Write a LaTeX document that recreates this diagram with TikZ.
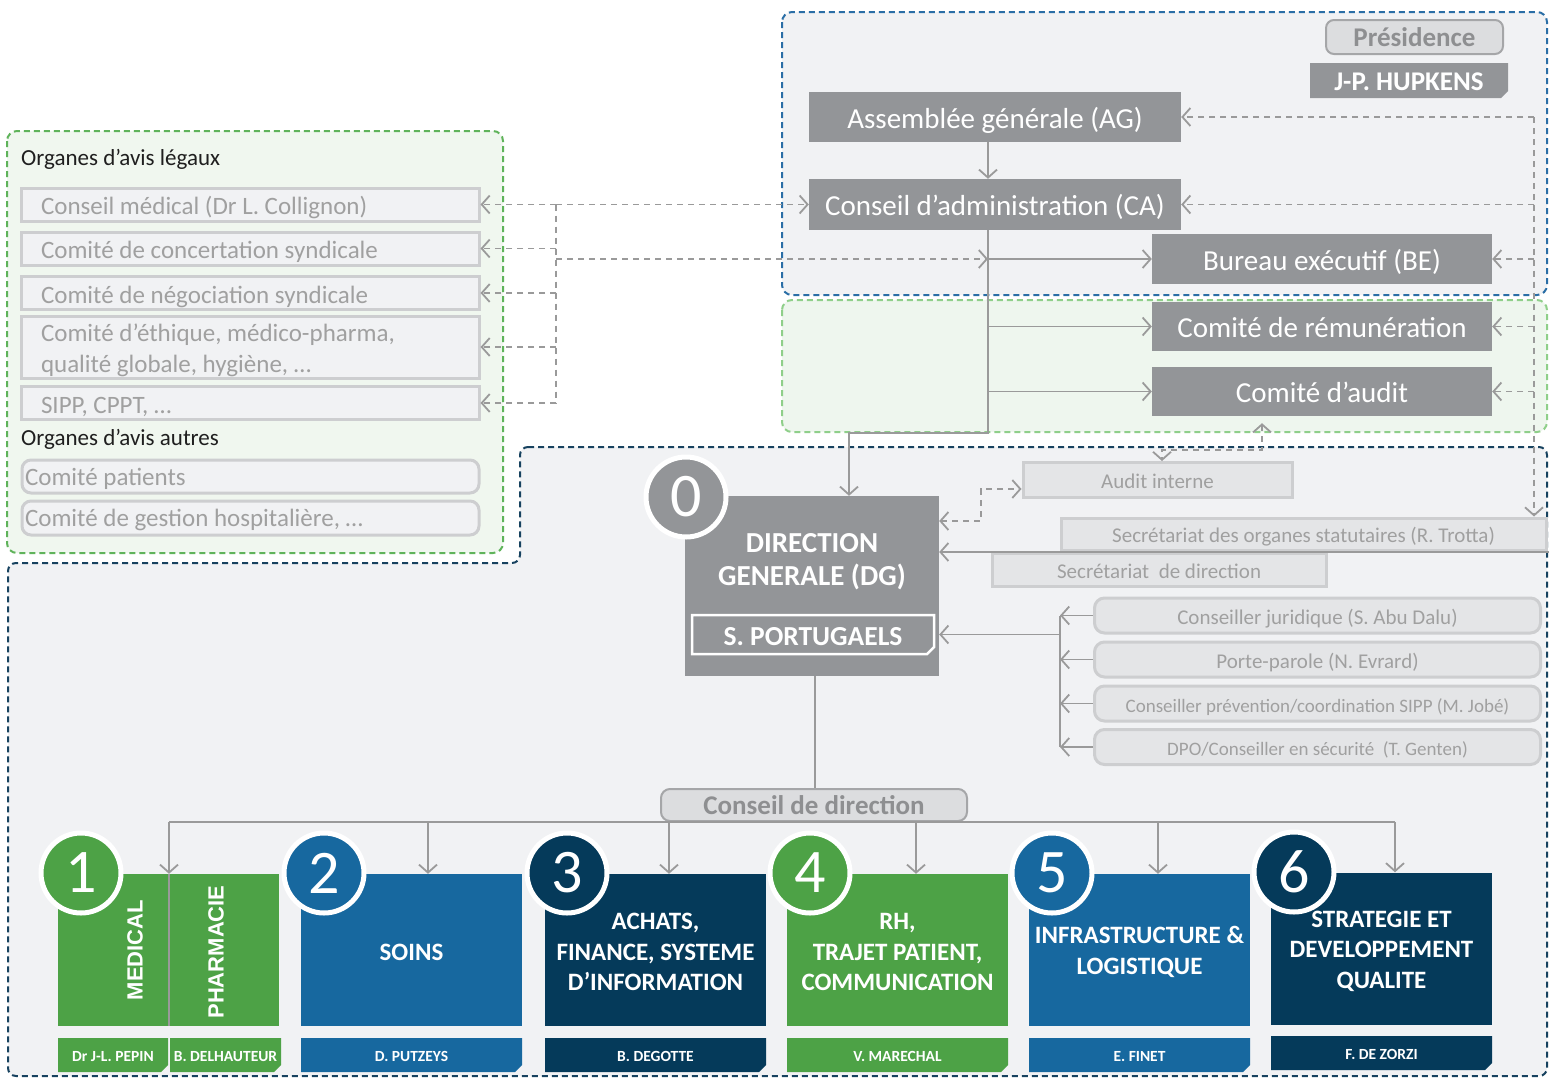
\documentclass[tikz,border=0pt]{standalone}
\usepackage{fontspec}
\setmainfont{Carlito}
\newfontfamily\widefont{Liberation Sans}
\usetikzlibrary{arrows.meta}

\definecolor{boxgray}{HTML}{939598}
\definecolor{panelgray}{HTML}{F1F2F4}
\definecolor{panelgreen}{HTML}{EEF6EE}
\definecolor{panelgreenb}{HTML}{F0F7EF}
\definecolor{dashblue}{HTML}{2A6EA6}
\definecolor{dashnavy}{HTML}{17425F}
\definecolor{dashgreen}{HTML}{5FB35A}
\definecolor{dashgreenlt}{HTML}{8FCF8A}
\definecolor{linegray}{HTML}{9A9A9A}
\definecolor{txtgray}{HTML}{A0A0A0}
\definecolor{legborder}{HTML}{CDCED0}
\definecolor{lightbox}{HTML}{E4E5E7}
\definecolor{presfill}{HTML}{DCDDDF}
\definecolor{presdraw}{HTML}{A5A6A8}
\definecolor{prestext}{HTML}{8E8F91}
\definecolor{pgreen}{HTML}{4DA246}
\definecolor{pblue}{HTML}{17689F}
\definecolor{pnavy}{HTML}{053A5A}

% box with a cut lower right corner and a centred label
\newcommand\cutbox[8]{%
  \path[#6] (#2,#3) -- (#4,#3) -- (#4,#5-7) -- (#4-7,#5) -- (#2,#5) -- cycle;
  \node[#7] (#1) at ({(#2+#4)/2},{(#3+#5)/2}) {#8};}

\tikzset{
  govbox/.style={fill=boxgray, text=white, inner sep=0pt, text height=26pt, text depth=4pt,
    font=\fontsize{29}{34}\selectfont},
  legbox/.style={draw=legborder, line width=3pt, fill=panelgray, text=txtgray, inner xsep=20pt, inner ysep=0pt,
    text width=418pt, align=flush left, minimum height=33pt, text height=22pt, text depth=2pt,
    font=\fontsize{25}{31}\selectfont},
  othbox/.style={draw=legborder, line width=3pt, fill=panelgray, text=txtgray, rounded corners=9pt, inner xsep=3pt,
    inner ysep=0pt, text width=451pt, align=flush left, minimum height=33pt, text height=20pt, text depth=3pt,
    font=\fontsize{25}{31}\selectfont},
  staffbox/.style={draw=legborder, line width=3pt, fill=lightbox, text=txtgray, inner sep=0pt,
    text height=19pt, text depth=2pt, font=\fontsize{21}{25}\selectfont},
  advbox/.style={staffbox, rounded corners=10pt, minimum width=446pt, minimum height=35pt},
  header/.style={text=black!88, inner sep=0pt, anchor=base west, font=\fontsize{23}{27}\selectfont},
  graylabel/.style={draw=presdraw, line width=2pt, fill=presfill, inner sep=0pt, text=prestext,
    text height=21pt, text depth=2pt, font=\bfseries\fontsize{27}{30}\selectfont},
  conn/.style={draw=linegray, line width=1.8pt},
  dconn/.style={conn, dash pattern=on 6pt off 5pt},
  tip/.style={-{Straight Barb[length=8pt,width=18pt]}},
  tips/.style={{Straight Barb[length=8pt,width=18pt]}-{Straight Barb[length=8pt,width=18pt]}},
  numdisc/.style={circle, draw=white, line width=5pt, minimum size=80pt, inner sep=0pt, text=white,
    font=\fontsize{62}{62}\selectfont},
  divbox/.style={minimum width=221pt, minimum height=152pt, inner sep=0pt},
  divtext/.style={text=white, align=flush center, inner sep=0pt, font=\bfseries\fontsize{25}{30.5}\selectfont},
  nametext/.style={text=white, inner sep=0pt, text height=13pt, text depth=1pt,
    font=\bfseries\fontsize{15.5}{18}\selectfont},
  vertlabel/.style={rotate=90, text=white, inner sep=0pt, font=\widefont\bfseries\fontsize{22}{26}\selectfont},
}

\begin{document}
\begin{tikzpicture}[x=1pt,y=-1pt]
\useasboundingbox (0,0) rectangle (1549,1079);
\fill[white] (0,0) rectangle (1549,1079);

% ---- dashed zones ----
\path[fill=panelgray, draw=dashblue, line width=2pt, dash pattern=on 6pt off 4pt, rounded corners=10pt]
  (782,12) rectangle (1547,295);
\path[fill=panelgreen, draw=dashgreenlt, line width=2pt, dash pattern=on 6pt off 4pt, rounded corners=10pt]
  (782,300) rectangle (1547,432);
\path[fill=panelgreenb, draw=dashgreen, line width=2pt, dash pattern=on 6pt off 4pt, rounded corners=10pt]
  (7,131) rectangle (503,553);
\path[fill=panelgray, draw=dashnavy, line width=2pt, dash pattern=on 6pt off 4pt, rounded corners=8pt]
  (520,447) -- (1547,447) -- (1547,1076) -- (8,1076) -- (8,563) -- (520,563) -- cycle;

% ---- governing bodies ----
\node[graylabel, rounded corners=8pt, minimum width=177pt, minimum height=34pt] (pres) at (1414.5,37) {Présidence};
\cutbox{hupkens}{1310}{63}{1508}{98}{fill=boxgray}{text=white, inner sep=0pt, text height=22pt, text depth=2pt,
  font=\bfseries\fontsize{27}{30}\selectfont}{J-P. HUPKENS}

\node[govbox, minimum width=372pt, minimum height=50pt] (ag) at (995,117) {Assemblée générale (AG)};
\node[govbox, minimum width=372pt, minimum height=51pt] (ca) at (995,204.5) {Conseil d’administration (CA)};
\node[govbox, minimum width=340pt, minimum height=50pt] (be) at (1322,259) {Bureau exécutif (BE)};
\node[govbox, minimum width=340pt, minimum height=49pt] (rem) at (1322,326.5) {Comité de rémunération};
\node[govbox, minimum width=340pt, minimum height=49pt] (audit) at (1322,391.5) {Comité d’audit};

% ---- advisory bodies ----
\node[header] (hleg) at (21,165) {Organes d’avis légaux};
\node[legbox] (lb1) at (250,204.5) {Conseil médical (Dr L. Collignon)};
\node[legbox] (lb2) at (250,248.5) {Comité de concertation syndicale};
\node[legbox] (lb3) at (250,293) {Comité de négociation syndicale};
\node[legbox, minimum height=62pt] (lb4) at (250,347) {};
\node[text=txtgray, inner sep=0pt, text width=418pt, align=flush left, font=\fontsize{25}{31}\selectfont]
  (lb4text) at (250,350.5) {Comité d’éthique, médico-pharma,\\qualité globale, hygiène, \dots};
\node[legbox] (lb5) at (250,403) {SIPP, CPPT, \dots};
\node[header] (hoth) at (21,445) {Organes d’avis autres};
\node[othbox] (ob1) at (250.5,476.5) {Comité patients};
\node[othbox, minimum height=34pt] (ob2) at (250.5,518) {Comité de gestion hospitalière, \dots};

% ---- general management ----
\node[fill=boxgray, minimum width=254pt, minimum height=180pt, inner sep=0pt] (dg) at (812,586) {};
\node[text=white, align=flush center, inner sep=0pt, font=\bfseries\fontsize{29}{33}\selectfont] (dgtitle) at (812,562)
  {DIRECTION\\GENERALE (DG)};
\cutbox{port}{692}{615}{934}{654}{draw=white, line width=2.5pt}{text=white, inner sep=0pt, text height=22pt,
  text depth=1pt, font=\bfseries\fontsize{27.5}{30}\selectfont}{S. PORTUGAELS}
\node[numdisc, fill=boxgray] (n0) at (686,497) {0};

\node[staffbox, minimum width=269pt, minimum height=35pt] (audint) at (1157.5,480) {Audit interne};
\node[staffbox, minimum width=485pt, minimum height=32pt] (secorg) at (1303.5,534) {Secrétariat des organes statutaires (R. Trotta)};
\node[staffbox, minimum width=334pt, minimum height=33pt] (secdir) at (1159,569.5) {Secrétariat\ \ de direction};

\node[advbox] (r1) at (1317.5,615.5) {Conseiller juridique (S. Abu Dalu)};
\node[advbox] (r2) at (1317.5,659.5) {Porte-parole (N. Evrard)};
\node[advbox, font=\fontsize{19}{23}\selectfont] (r3) at (1317.5,703.5) {Conseiller prévention/coordination SIPP (M. Jobé)};
\node[advbox, font=\fontsize{19}{23}\selectfont] (r4) at (1317.5,747) {DPO/Conseiller en sécurité\ \ (T. Genten)};

\node[graylabel, rounded corners=9pt, minimum width=306pt, minimum height=32pt] (cdd) at (814,805) {Conseil de direction};

% ---- divisions ----
\node[divbox, fill=pgreen] (d1) at (168.5,950) {};
\node[divbox, fill=pblue] (d2) at (411.5,950) {};
\node[divbox, fill=pnavy] (d3) at (655.5,950) {};
\node[divbox, fill=pgreen] (d4) at (897.5,950) {};
\node[divbox, fill=pblue] (d5) at (1139.5,950) {};
\node[divbox, fill=pnavy] (d6) at (1381.5,948.5) {};
\node[divtext] (d2text) at (411.5,952) {SOINS};
\node[divtext] (d3text) at (655.5,952) {ACHATS,\\FINANCE, SYSTEME\\D’INFORMATION};
\node[divtext] (d4text) at (897.5,952) {RH,\\TRAJET PATIENT,\\COMMUNICATION};
\node[divtext] (d5text) at (1139.5,952) {INFRASTRUCTURE \&\\LOGISTIQUE};
\node[divtext] (d6text) at (1381.5,951) {STRATEGIE ET\\DEVELOPPEMENT\\QUALITE};
\node[vertlabel] (med) at (135,950) {MEDICAL};
\node[vertlabel] (pha) at (216,952) {PHARMACIE};

\cutbox{nb1a}{58}{1038}{168}{1072}{fill=pgreen}{nametext}{Dr J-L. PEPIN}
\cutbox{nb1b}{170}{1038}{281}{1072}{fill=pgreen}{nametext}{B. DELHAUTEUR}
\cutbox{nb2}{301}{1038}{522}{1072}{fill=pblue}{nametext}{D. PUTZEYS}
\cutbox{nb3}{545}{1038}{766}{1072}{fill=pnavy}{nametext}{B. DEGOTTE}
\cutbox{nb4}{787}{1038}{1008}{1072}{fill=pgreen}{nametext}{V. MARECHAL}
\cutbox{nb5}{1029}{1038}{1250}{1072}{fill=pblue}{nametext}{E. FINET}
\cutbox{nb6}{1271}{1036}{1492}{1070}{fill=pnavy}{nametext}{F. DE ZORZI}

\node[numdisc, fill=pgreen] (n1) at (81,873) {1};
\node[numdisc, fill=pblue] (n2) at (324,873) {2};
\node[numdisc, fill=pnavy] (n3) at (567,873) {3};
\node[numdisc, fill=pgreen] (n4) at (810,873) {4};
\node[numdisc, fill=pblue] (n5) at (1052,873) {5};
\node[numdisc, fill=pnavy] (n6) at (1294,872) {6};

% ---- helper points ----
\coordinate (trunk) at (988,433);
\coordinate (xdg) at (849,0);
\coordinate (rtr) at (1534,0);
\coordinate (ltr) at (556,0);
\coordinate (ai1) at (1262,450);
\coordinate (ai2) at (1162,450);
\coordinate (adl) at (981,521);
\coordinate (redge) at (1549,552);
\coordinate (bus) at (1060,0);
\coordinate (cdx) at (815,0);
\coordinate (k1) at (169,822);
\coordinate (k2) at (428,822);
\coordinate (k3) at (669,822);
\coordinate (k4) at (916,822);
\coordinate (k5) at (1158,822);
\coordinate (k6) at (1395,822);

% ---- solid reporting lines ----
\draw[conn, tip] (ag.south -| trunk) -- (ca.north -| trunk);
\draw[conn, tip] (ca.south -| trunk) -- (trunk) -| (dg.north -| xdg);
\draw[conn, tip] (be.west -| trunk) -- (be.west);
\draw[conn, tip] (rem.west -| trunk) -- (rem.west);
\draw[conn, tip] (audit.west -| trunk) -- (audit.west);
\draw[conn, tip] (redge) -- (dg.east |- redge);
\draw[conn] (bus |- r1.west) -- (bus |- r4.west);
\foreach \r in {r1,r2,r3,r4} \draw[conn, tip] (\r.west) -- (bus |- \r.west);
\draw[conn, tip] (bus |- port.east) -- (dg.east |- port.east);
\draw[conn] (dg.south -| cdx) -- (cdd.north -| cdx);
\draw[conn] (k1) -- (k6);
\foreach \k/\d in {k1/d1,k2/d2,k3/d3,k4/d4,k5/d5,k6/d6} \draw[conn, tip] (\k) -- (\d.north -| \k);
\draw[conn] (d1.north -| k1) -- (d1.south -| k1);

% ---- dashed links ----
\draw[dconn] (rtr |- ag.east) -- (rtr |- ca.east);
\draw[dconn, tip] (rtr |- ca.east) -- (rtr |- secorg.north);
\draw[dconn, tip] (rtr |- ag.east) -- (ag.east);
\foreach \b in {ca,be,rem,audit} \draw[dconn, tip] (rtr |- \b.east) -- (\b.east);

\draw[dconn] (ltr |- lb1.east) -- (ltr |- lb5.east);
\foreach \b in {lb1,lb2,lb3,lb4,lb5} \draw[dconn, tip] (ltr |- \b.east) -- (\b.east);
\draw[dconn, tip] (ltr |- lb1.east) -- (ca.west);
\draw[dconn, tip] (ltr |- be.west) -- (trunk |- be.west);

\draw[dconn, tips, shorten <=7pt] (audit.south -| ai1) -- (ai1) -- (ai2) -- (audint.north -| ai2);
\draw[dconn, tips] (dg.east |- adl) -- (adl) |- ([yshift=-9pt]audint.west);
\end{tikzpicture}
\end{document}
